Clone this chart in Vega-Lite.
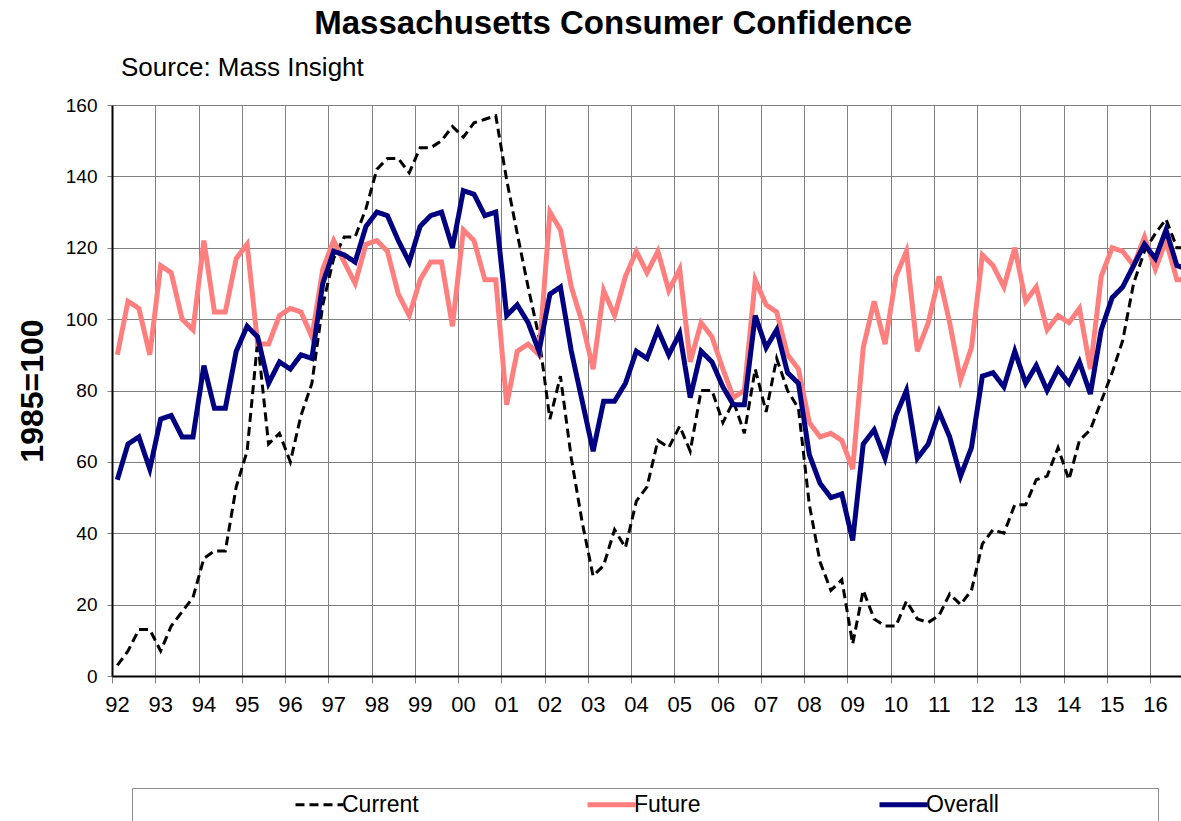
{
  "$schema": "https://vega.github.io/schema/vega-lite/v6.json",
  "padding": {"left": 16, "top": 8, "right": 0, "bottom": 0},
  "title": {
    "text": "Massachusetts Consumer Confidence",
    "font": "Liberation Sans, Arial, sans-serif",
    "fontSize": 33,
    "fontWeight": "bold",
    "color": "#000000",
    "anchor": "middle",
    "frame": "bounds",
    "offset": 14,
    "dx": 14
  },
  "vconcat": [
    {
      "title": {
        "text": "Source: Mass Insight",
        "font": "Liberation Sans, Arial, sans-serif",
        "fontSize": 26,
        "fontWeight": "normal",
        "color": "#000000",
        "anchor": "start",
        "frame": "group",
        "dx": 9,
        "offset": 15
      },
      "width": 1070,
      "height": 571,
      "data": {
        "values": [
          {"d": "1992-02-15", "Current": 3, "Future": 90, "Overall": 55},
          {"d": "1992-05-15", "Current": 7, "Future": 105, "Overall": 65},
          {"d": "1992-08-15", "Current": 13, "Future": 103, "Overall": 67},
          {"d": "1992-11-15", "Current": 13, "Future": 90, "Overall": 58},
          {"d": "1993-02-15", "Current": 7, "Future": 115, "Overall": 72},
          {"d": "1993-05-15", "Current": 14, "Future": 113, "Overall": 73},
          {"d": "1993-08-15", "Current": 18, "Future": 100, "Overall": 67},
          {"d": "1993-11-15", "Current": 22, "Future": 97, "Overall": 67},
          {"d": "1994-02-15", "Current": 33, "Future": 122, "Overall": 87},
          {"d": "1994-05-15", "Current": 35, "Future": 102, "Overall": 75},
          {"d": "1994-08-15", "Current": 35, "Future": 102, "Overall": 75},
          {"d": "1994-11-15", "Current": 53, "Future": 117, "Overall": 91},
          {"d": "1995-02-15", "Current": 63, "Future": 121, "Overall": 98},
          {"d": "1995-05-15", "Current": 94, "Future": 93, "Overall": 95},
          {"d": "1995-08-15", "Current": 65, "Future": 93, "Overall": 82},
          {"d": "1995-11-15", "Current": 68, "Future": 101, "Overall": 88},
          {"d": "1996-02-15", "Current": 60, "Future": 103, "Overall": 86},
          {"d": "1996-05-15", "Current": 73, "Future": 102, "Overall": 90},
          {"d": "1996-08-15", "Current": 82, "Future": 95, "Overall": 89},
          {"d": "1996-11-15", "Current": 104, "Future": 114, "Overall": 110},
          {"d": "1997-02-15", "Current": 117, "Future": 122, "Overall": 119},
          {"d": "1997-05-15", "Current": 123, "Future": 116, "Overall": 118},
          {"d": "1997-08-15", "Current": 123, "Future": 110, "Overall": 116},
          {"d": "1997-11-15", "Current": 131, "Future": 121, "Overall": 126},
          {"d": "1998-02-15", "Current": 142, "Future": 122, "Overall": 130},
          {"d": "1998-05-15", "Current": 145, "Future": 119, "Overall": 129},
          {"d": "1998-08-15", "Current": 145, "Future": 107, "Overall": 122},
          {"d": "1998-11-15", "Current": 141, "Future": 101, "Overall": 116},
          {"d": "1999-02-15", "Current": 148, "Future": 111, "Overall": 126},
          {"d": "1999-05-15", "Current": 148, "Future": 116, "Overall": 129},
          {"d": "1999-08-15", "Current": 150, "Future": 116, "Overall": 130},
          {"d": "1999-11-15", "Current": 154, "Future": 98, "Overall": 120},
          {"d": "2000-02-15", "Current": 151, "Future": 125, "Overall": 136},
          {"d": "2000-05-15", "Current": 155, "Future": 122, "Overall": 135},
          {"d": "2000-08-15", "Current": 156, "Future": 111, "Overall": 129},
          {"d": "2000-11-15", "Current": 157, "Future": 111, "Overall": 130},
          {"d": "2001-02-15", "Current": 139, "Future": 76, "Overall": 101},
          {"d": "2001-05-15", "Current": 124, "Future": 91, "Overall": 104},
          {"d": "2001-08-15", "Current": 109, "Future": 93, "Overall": 99},
          {"d": "2001-11-15", "Current": 95, "Future": 90, "Overall": 91},
          {"d": "2002-02-15", "Current": 72, "Future": 130, "Overall": 107},
          {"d": "2002-05-15", "Current": 84, "Future": 125, "Overall": 109},
          {"d": "2002-08-15", "Current": 61, "Future": 109, "Overall": 91},
          {"d": "2002-11-15", "Current": 43, "Future": 99, "Overall": 77},
          {"d": "2003-02-15", "Current": 28, "Future": 86, "Overall": 63},
          {"d": "2003-05-15", "Current": 31, "Future": 108, "Overall": 77},
          {"d": "2003-08-15", "Current": 41, "Future": 101, "Overall": 77},
          {"d": "2003-11-15", "Current": 36, "Future": 112, "Overall": 82},
          {"d": "2004-02-15", "Current": 49, "Future": 119, "Overall": 91},
          {"d": "2004-05-15", "Current": 53, "Future": 113, "Overall": 89},
          {"d": "2004-08-15", "Current": 66, "Future": 119, "Overall": 97},
          {"d": "2004-11-15", "Current": 64, "Future": 108, "Overall": 90},
          {"d": "2005-02-15", "Current": 70, "Future": 114, "Overall": 96},
          {"d": "2005-05-15", "Current": 63, "Future": 88, "Overall": 78},
          {"d": "2005-08-15", "Current": 80, "Future": 99, "Overall": 91},
          {"d": "2005-11-15", "Current": 80, "Future": 95, "Overall": 88},
          {"d": "2006-02-15", "Current": 71, "Future": 86, "Overall": 81},
          {"d": "2006-05-15", "Current": 77, "Future": 78, "Overall": 76},
          {"d": "2006-08-15", "Current": 68, "Future": 80, "Overall": 76},
          {"d": "2006-11-15", "Current": 86, "Future": 111, "Overall": 101},
          {"d": "2007-02-15", "Current": 74, "Future": 104, "Overall": 92},
          {"d": "2007-05-15", "Current": 89, "Future": 102, "Overall": 97},
          {"d": "2007-08-15", "Current": 80, "Future": 90, "Overall": 85},
          {"d": "2007-11-15", "Current": 75, "Future": 86, "Overall": 82},
          {"d": "2008-02-15", "Current": 48, "Future": 71, "Overall": 62},
          {"d": "2008-05-15", "Current": 32, "Future": 67, "Overall": 54},
          {"d": "2008-08-15", "Current": 24, "Future": 68, "Overall": 50},
          {"d": "2008-11-15", "Current": 27, "Future": 66, "Overall": 51},
          {"d": "2009-02-15", "Current": 9, "Future": 58, "Overall": 38},
          {"d": "2009-05-15", "Current": 24, "Future": 92, "Overall": 65},
          {"d": "2009-08-15", "Current": 16, "Future": 105, "Overall": 69},
          {"d": "2009-11-15", "Current": 14, "Future": 93, "Overall": 61},
          {"d": "2010-02-15", "Current": 14, "Future": 112, "Overall": 73},
          {"d": "2010-05-15", "Current": 21, "Future": 119, "Overall": 80},
          {"d": "2010-08-15", "Current": 16, "Future": 91, "Overall": 61},
          {"d": "2010-11-15", "Current": 15, "Future": 99, "Overall": 65},
          {"d": "2011-02-15", "Current": 17, "Future": 112, "Overall": 74},
          {"d": "2011-05-15", "Current": 23, "Future": 99, "Overall": 67},
          {"d": "2011-08-15", "Current": 20, "Future": 83, "Overall": 56},
          {"d": "2011-11-15", "Current": 24, "Future": 92, "Overall": 64},
          {"d": "2012-02-15", "Current": 37, "Future": 118, "Overall": 84},
          {"d": "2012-05-15", "Current": 41, "Future": 115, "Overall": 85},
          {"d": "2012-08-15", "Current": 40, "Future": 109, "Overall": 81},
          {"d": "2012-11-15", "Current": 48, "Future": 120, "Overall": 91},
          {"d": "2013-02-15", "Current": 48, "Future": 105, "Overall": 82},
          {"d": "2013-05-15", "Current": 55, "Future": 109, "Overall": 87},
          {"d": "2013-08-15", "Current": 56, "Future": 97, "Overall": 80},
          {"d": "2013-11-15", "Current": 64, "Future": 101, "Overall": 86},
          {"d": "2014-02-15", "Current": 55, "Future": 99, "Overall": 82},
          {"d": "2014-05-15", "Current": 66, "Future": 103, "Overall": 88},
          {"d": "2014-08-15", "Current": 69, "Future": 86, "Overall": 79},
          {"d": "2014-11-15", "Current": 77, "Future": 112, "Overall": 97},
          {"d": "2015-02-15", "Current": 85, "Future": 120, "Overall": 106},
          {"d": "2015-05-15", "Current": 94, "Future": 119, "Overall": 109},
          {"d": "2015-08-15", "Current": 110, "Future": 115, "Overall": 115},
          {"d": "2015-11-15", "Current": 119, "Future": 123, "Overall": 121},
          {"d": "2016-02-15", "Current": 124, "Future": 114, "Overall": 117},
          {"d": "2016-05-15", "Current": 128, "Future": 122, "Overall": 125},
          {"d": "2016-08-15", "Current": 120, "Future": 111, "Overall": 115},
          {"d": "2016-11-15", "Current": 120, "Future": 111, "Overall": 114}
        ]
      },
      "transform": [{"fold": ["Current", "Future", "Overall"], "as": ["series", "value"]}],
      "encoding": {
        "x": {
          "field": "d",
          "type": "temporal",
          "scale": {
            "type": "utc",
            "domain": [
              {"year": 1992, "month": 1, "date": 1, "utc": true},
              {"year": 2016, "month": 9, "date": 27, "utc": true}
            ]
          },
          "axis": {
            "title": null,
            "tickCount": {"interval": "year", "step": 1},
            "format": "%y",
            "labelFont": "Liberation Sans, Arial, sans-serif",
            "labelFontSize": 22,
            "labelColor": "#000000",
            "labelOffset": 5,
            "labelPadding": 11,
            "labelFlush": false,
            "labelOverlap": false,
            "labelAngle": 0,
            "tickSize": 7,
            "tickColor": "#808080",
            "domainColor": "#000000",
            "domainWidth": 2,
            "grid": true,
            "gridColor": "#808080",
            "gridWidth": 1
          }
        },
        "y": {
          "field": "value",
          "type": "quantitative",
          "scale": {"domain": [0, 160], "nice": false},
          "axis": {
            "title": "1985=100",
            "values": [0, 20, 40, 60, 80, 100, 120, 140, 160],
            "titleFont": "Liberation Sans, Arial, sans-serif",
            "titleFontSize": 32,
            "titleFontWeight": "bold",
            "titleColor": "#000000",
            "titlePadding": 16,
            "labelFont": "Liberation Sans, Arial, sans-serif",
            "labelFontSize": 19,
            "labelColor": "#000000",
            "labelPadding": 10,
            "tickSize": 5,
            "tickColor": "#808080",
            "domainColor": "#000000",
            "domainWidth": 2,
            "grid": true,
            "gridColor": "#808080",
            "gridWidth": 1
          }
        },
        "color": {
          "field": "series",
          "type": "nominal",
          "scale": {"domain": ["Current", "Future", "Overall"], "range": ["#000000", "#FF7F7F", "#000080"]},
          "legend": {
            "orient": "none",
            "legendX": 20,
            "legendY": 683,
            "direction": "horizontal",
            "columns": 3,
            "gridAlign": "all",
            "columnPadding": 4,
            "padding": 5,
            "strokeColor": "#8c8c8c",
            "title": "\u00a0",
            "titleOrient": "left",
            "titlePadding": 171,
            "titleFontSize": 23,
            "symbolType": "stroke",
            "symbolSize": 2304,
            "labelFont": "Liberation Sans, Arial, sans-serif",
            "labelFontSize": 23,
            "labelColor": "#000000",
            "labelOffset": 11,
            "labelLimit": 600,
            "labelExpr": "datum.label + '\u00a0\u00a0\u00a0\u00a0\u00a0\u00a0\u00a0\u00a0\u00a0\u00a0\u00a0\u00a0\u00a0\u00a0\u00a0\u00a0\u00a0\u00a0\u00a0\u00a0\u00a0\u00a0\u00a0\u00a0\u200b'",
            "encode": {"symbols": {"update": {"strokeWidth": {"signal": "datum.value === 'Current' ? 3 : 5"}}}}
          }
        },
        "strokeDash": {
          "field": "series",
          "type": "nominal",
          "scale": {"domain": ["Current", "Future", "Overall"], "range": [[9, 5], [1, 0], [1, 0]]},
          "legend": {
            "orient": "none",
            "legendX": 20,
            "legendY": 683,
            "direction": "horizontal",
            "columns": 3,
            "gridAlign": "all",
            "columnPadding": 4,
            "padding": 5,
            "strokeColor": "#8c8c8c",
            "title": "\u00a0",
            "titleOrient": "left",
            "titlePadding": 171,
            "titleFontSize": 23,
            "symbolType": "stroke",
            "symbolSize": 2304,
            "labelFont": "Liberation Sans, Arial, sans-serif",
            "labelFontSize": 23,
            "labelColor": "#000000",
            "labelOffset": 11,
            "labelLimit": 600,
            "labelExpr": "datum.label + '\u00a0\u00a0\u00a0\u00a0\u00a0\u00a0\u00a0\u00a0\u00a0\u00a0\u00a0\u00a0\u00a0\u00a0\u00a0\u00a0\u00a0\u00a0\u00a0\u00a0\u00a0\u00a0\u00a0\u00a0\u200b'",
            "encode": {"symbols": {"update": {"strokeWidth": {"signal": "datum.value === 'Current' ? 3 : 5"}}}}
          }
        }
      },
      "layer": [
        {"transform": [{"filter": "datum.series === 'Current'"}], "mark": {"type": "line", "strokeWidth": 3, "clip": true}},
        {"transform": [{"filter": "datum.series === 'Future'"}], "mark": {"type": "line", "strokeWidth": 5, "clip": true}},
        {"transform": [{"filter": "datum.series === 'Overall'"}], "mark": {"type": "line", "strokeWidth": 5, "clip": true}}
      ]
    }
  ],
  "config": {
    "view": {"stroke": null},
    "background": "#ffffff"
  }
}
